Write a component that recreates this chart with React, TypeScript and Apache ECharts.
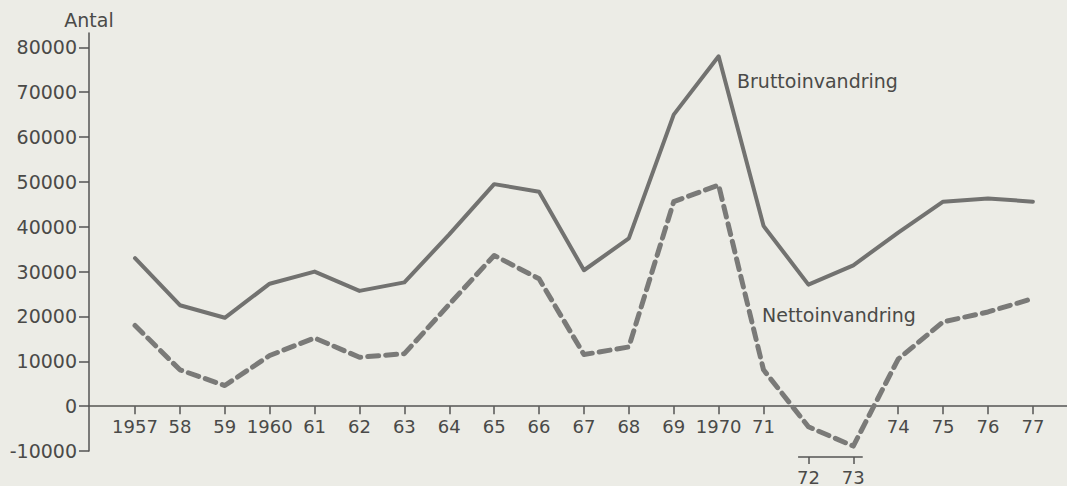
import React, { useEffect, useRef } from "react";
import * as echarts from "echarts";

const years = [1957, 1958, 1959, 1960, 1961, 1962, 1963, 1964, 1965, 1966, 1967, 1968, 1969, 1970, 1971, 1972, 1973, 1974, 1975, 1976, 1977];
const bruttoinvandring = [33000, 22500, 19700, 27300, 30000, 25700, 27600, 38300, 49500, 47800, 30300, 37400, 65000, 78000, 40200, 27100, 31400, 38700, 45600, 46300, 45600];
const nettoinvandring = [18000, 8100, 4600, 11300, 15200, 10900, 11700, 22700, 33600, 28400, 11500, 13200, 45600, 49300, 8100, -4600, -8900, 10500, 18800, 21000, 24000];
const yTicks = [-10000, 0, 10000, 20000, 30000, 40000, 50000, 60000, 70000, 80000];
const mainYearTicks = [1957, 1958, 1959, 1960, 1961, 1962, 1963, 1964, 1965, 1966, 1967, 1968, 1969, 1970, 1971, 1974, 1975, 1976, 1977];
const lowYearTicks = [1972, 1973];
const fullYearLabels = [1957, 1960, 1970];

const FONT = "'DejaVu Sans', 'Liberation Sans', sans-serif";
const TEXT = "#4a4a48";
const AXIS = "#555553";

export default function App() {
  const ref = useRef<HTMLDivElement>(null);
  useEffect(() => {
    if (!ref.current) return;
    const chart = echarts.init(ref.current, undefined, { renderer: "svg" });
    const yearLabel = (v: number) => {
      const r = Math.round(v);
      return fullYearLabels.includes(r) ? String(r) : String(r).slice(2);
    };
    const base = {
      animation: false,
      backgroundColor: "#ecece6",
      grid: { left: 89, right: 0, top: 33, bottom: 33, containLabel: false },
      yAxis: {
        type: "value",
        min: -10000,
        max: 83200,
        interval: 10000,
        name: "Antal",
        nameLocation: "end",
        nameGap: 4,
        nameTextStyle: { color: TEXT, fontSize: 19, fontFamily: FONT, align: "center" },
        splitLine: { show: false },
        axisLine: { show: true, lineStyle: { color: AXIS, width: 1.5 } },
        axisTick: { show: true, length: 10, customValues: yTicks, lineStyle: { color: AXIS, width: 1.5 } },
        axisLabel: {
          customValues: yTicks,
          margin: 12,
          color: TEXT,
          fontSize: 19,
          fontFamily: FONT,
          formatter: (v: number) => String(v),
        },
      },
      series: [
        {
          name: "Bruttoinvandring",
          type: "line",
          data: years.map((y, i) => [y, bruttoinvandring[i]]),
          symbol: "none",
          lineStyle: { color: "#727270", width: 4, cap: "round", join: "round" },
          z: 3,
        },
        {
          name: "Nettoinvandring",
          type: "line",
          data: years.map((y, i) => [y, nettoinvandring[i]]),
          symbol: "none",
          lineStyle: { color: "#7a7a78", width: 5, type: [11, 7], cap: "round", join: "round" },
          z: 3,
        },
      ],
    };
    const makeX = (offMain: number) => [
      {
        type: "value",
        position: "bottom",
        offset: offMain,
        min: 1955.975,
        max: 1977.76,
        splitLine: { show: false },
        axisLine: { show: true, onZero: false, lineStyle: { color: AXIS, width: 1.5 } },
        axisTick: { show: true, length: 8, customValues: mainYearTicks, lineStyle: { color: AXIS, width: 1.5 } },
        axisLabel: {
          show: true,
          customValues: mainYearTicks,
          formatter: yearLabel,
          margin: 11,
          color: TEXT,
          fontSize: 18,
          fontFamily: FONT,
        },
      },
      {
        type: "value",
        position: "bottom",
        offset: 6,
        min: 1955.975,
        max: 1977.76,
        splitLine: { show: false },
        axisLine: { show: false, onZero: false },
        axisTick: { show: true, length: 7, customValues: lowYearTicks, lineStyle: { color: AXIS, width: 1.5 } },
        axisLabel: {
          show: true,
          customValues: lowYearTicks,
          formatter: yearLabel,
          margin: 11,
          color: TEXT,
          fontSize: 18,
          fontFamily: FONT,
        },
      },
    ];
    chart.setOption({ ...base, xAxis: makeX(0) });
    const yZero = chart.convertToPixel({ yAxisIndex: 0 }, 0) as number;
    const yMin = chart.convertToPixel({ yAxisIndex: 0 }, -10000) as number;
    const xa = chart.convertToPixel({ xAxisIndex: 0 }, 1971.77) as number;
    const xb = chart.convertToPixel({ xAxisIndex: 0 }, 1973.21) as number;
    const yl = yMin + 6;
    chart.setOption({
      xAxis: makeX(yZero - yMin),
      graphic: [
        {
          type: "text",
          x: 737,
          y: 81,
          style: { text: "Bruttoinvandring", fill: TEXT, fontSize: 19, fontFamily: FONT, textVerticalAlign: "middle" },
        },
        {
          type: "text",
          x: 762,
          y: 315,
          style: { text: "Nettoinvandring", fill: TEXT, fontSize: 19, fontFamily: FONT, textVerticalAlign: "middle" },
        },
        {
          type: "line",
          shape: { x1: xa, y1: yl, x2: xb, y2: yl },
          style: { stroke: AXIS, lineWidth: 1.5 },
        },
      ],
    });
    return () => chart.dispose();
  }, []);
  return (
    <div
      ref={ref}
      style={{ position: "fixed", left: 0, top: 0, width: 1067, height: 486 }}
    />
  );
}
